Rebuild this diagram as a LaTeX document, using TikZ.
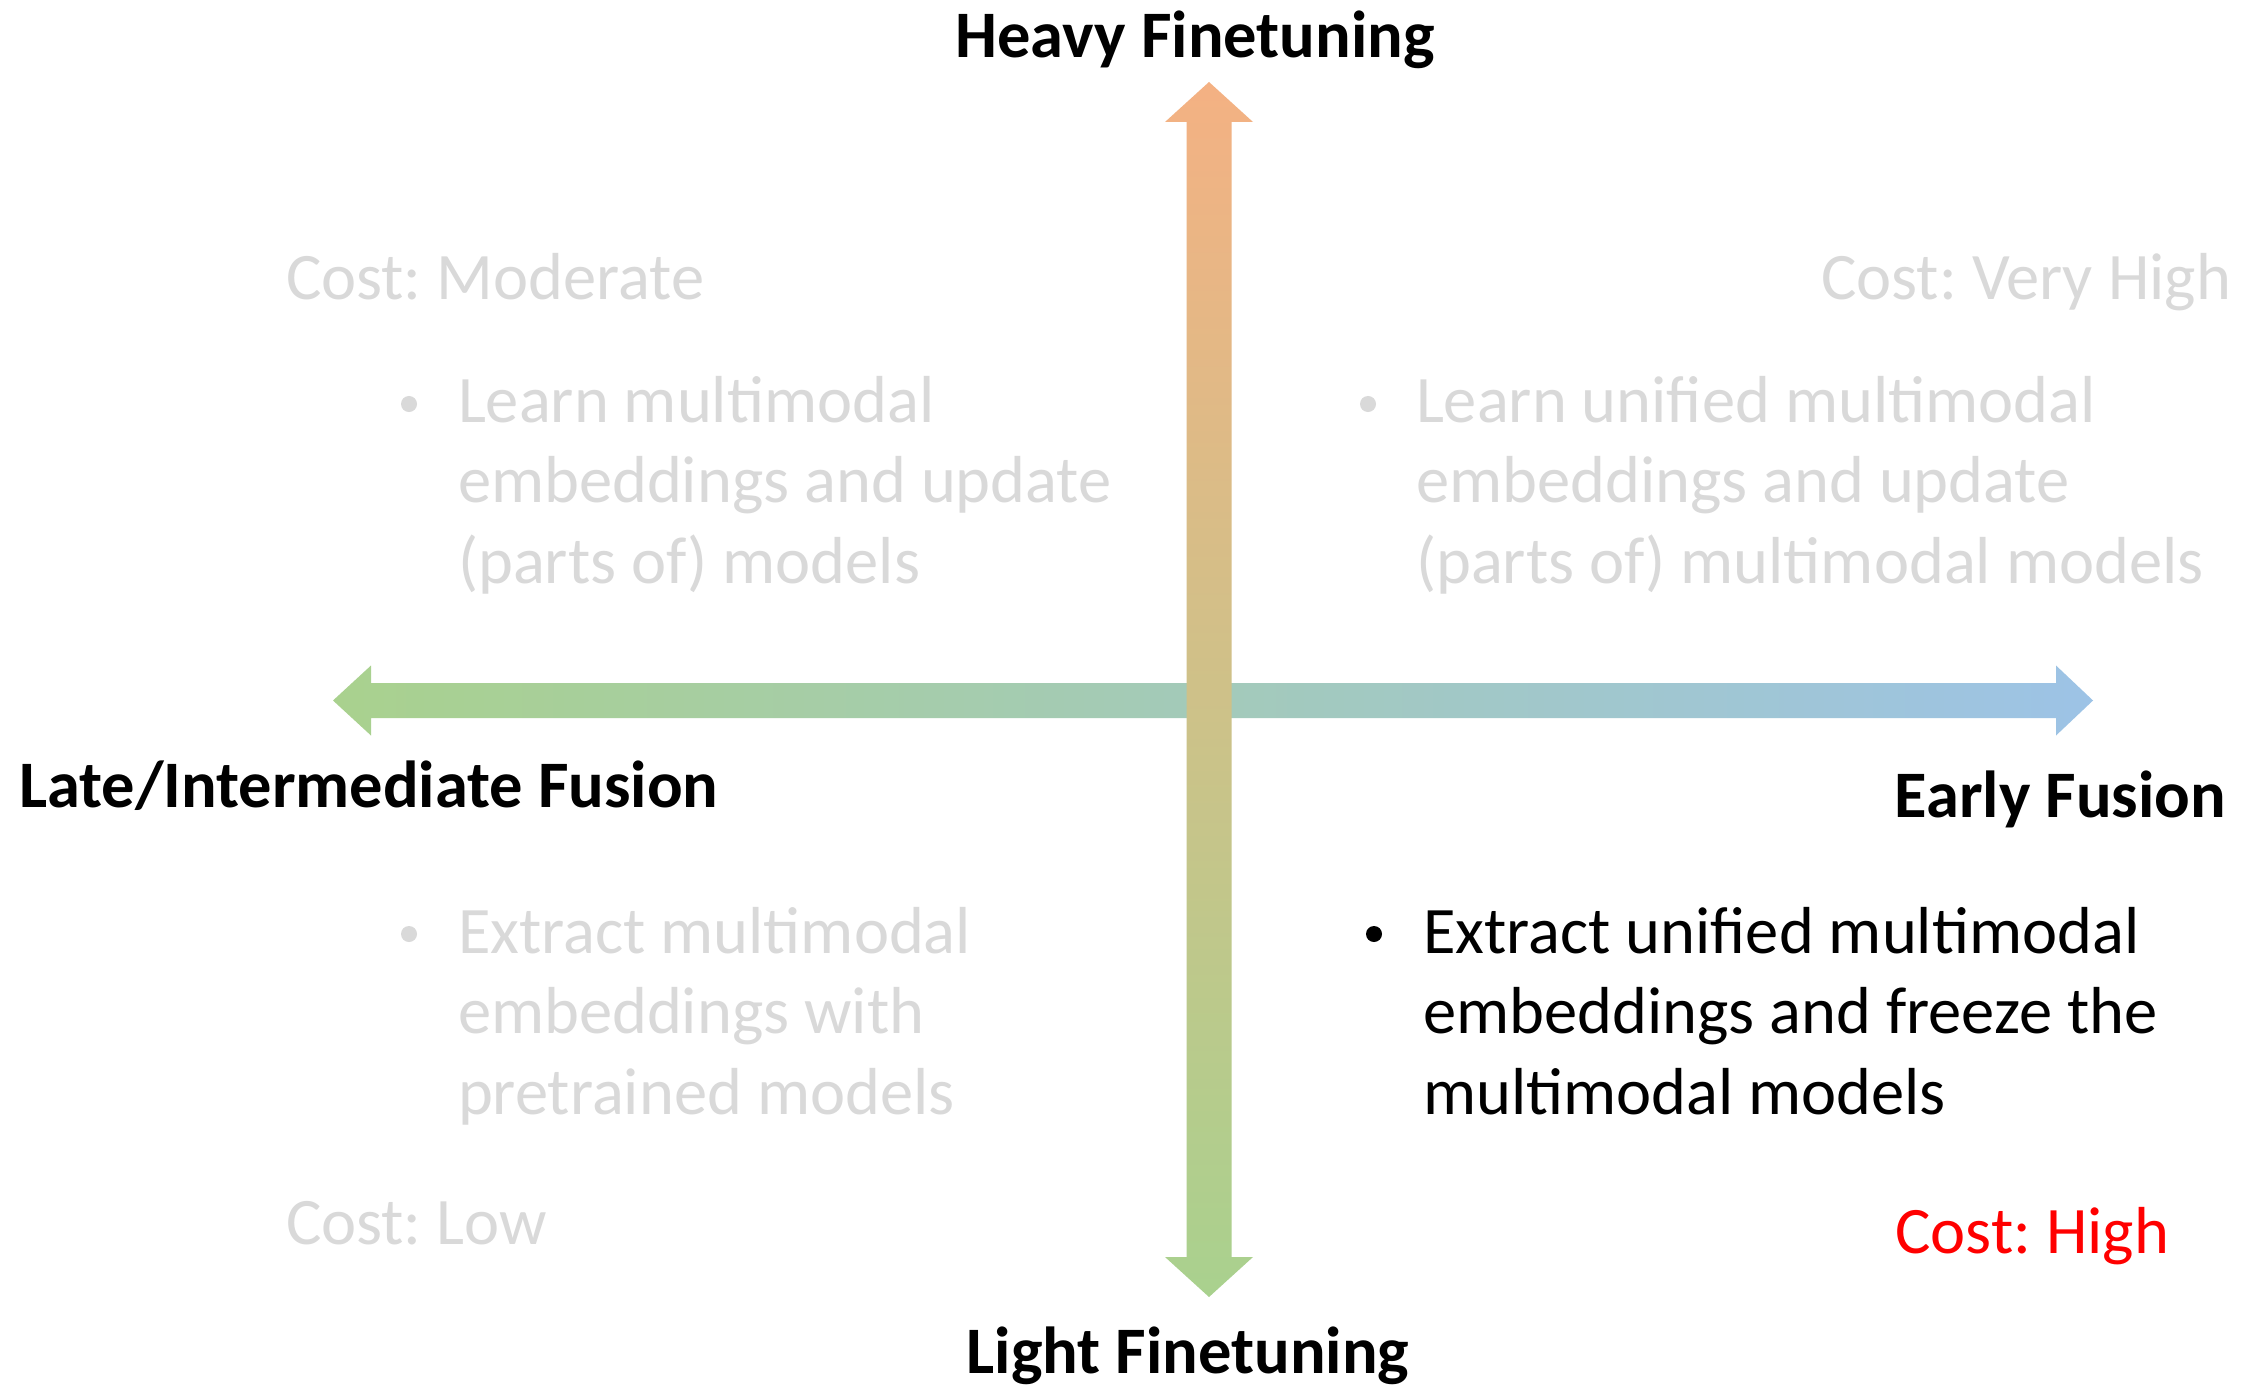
\documentclass[tikz,border=0pt]{standalone}
\usepackage{fontspec}
\setmainfont{Carlito}
\usetikzlibrary{calc}

\definecolor{axisorange}{HTML}{F4B183}
\definecolor{axisgreen}{HTML}{A9D18E}
\definecolor{axisblue}{HTML}{9DC3E6}
\definecolor{fadedtext}{HTML}{D9D9D9}
\definecolor{costred}{HTML}{FF0000}

\begin{document}
\frenchspacing
\begin{tikzpicture}[x=0.01cm, y=-0.01cm,
  every node/.style={inner sep=0pt, outer sep=0pt},
  txt/.style={font=\fontsize{18.9}{22.8}\selectfont, align=left},
  heading/.style={font=\fontsize{18.9}{22.8}\selectfont\bfseries, text=black},
  faded/.style={txt, text=fadedtext},
  dark/.style={txt, text=black},
  bulletdot/.style={circle, minimum size=0.16cm},
]
% canvas
\fill[white] (0,0) rectangle (2242,1385);
\useasboundingbox (0,0) rectangle (2242,1385);

% axis end points
\coordinate (hleft)  at (333,700.5);
\coordinate (hright) at (2093,700.5);
\coordinate (vtop)   at (1209,82);
\coordinate (vbot)   at (1209,1297);

% horizontal double block arrow: fusion axis
\shade[left color=axisgreen, right color=axisblue]
  (hleft) -- ++(38,-35) -- ++(0,17.5) -- ($(hright)+(-37,-17.5)$) -- ++(0,-17.5)
  -- (hright) -- ++(-37,35) -- ++(0,-17.5) -- ($(hleft)+(38,17.5)$) -- ++(0,17.5) -- cycle;

% vertical double block arrow: finetuning axis
\shade[top color=axisorange, bottom color=axisgreen]
  (vtop) -- ++(44,40) -- ++(-21.5,0) -- ($(vbot)+(22.5,-40)$) -- ++(21.5,0)
  -- (vbot) -- ++(-44,-40) -- ++(21.5,0) -- ($(vtop)+(-22.5,40)$) -- ++(-21.5,0) -- cycle;

% axis labels
\node[heading, anchor=base] (heavy) at (1195,58) {Heavy Finetuning};
\node[heading, anchor=base] (light) at (1188,1373) {Light Finetuning};
\node[heading, anchor=base west] (late) at (19,807) {Late/Intermediate Fusion};
\node[heading, anchor=base east] (early) at (2226,817) {Early Fusion};

% cost labels
\node[faded, anchor=base west] (costmod) at (286,299) {Cost: Moderate};
\node[faded, anchor=base east] (costvh) at (2231,299) {Cost: Very High};
\node[faded, anchor=base west] (costlow) at (286,1244) {Cost: Low};
\node[txt, text=costred, anchor=base east] (costhigh) at (2169,1253) {Cost: High};

% quadrant descriptions (base anchor sits on the last line)
\node[bulletdot, fill=fadedtext] (dtl) at (409,404) {};
\node[faded, anchor=base west] (qtl) at (458,583)
  {Learn multimodal\\embeddings and update\\(parts of) models};

\node[bulletdot, fill=fadedtext] (dtr) at (1368,404) {};
\node[faded, anchor=base west] (qtr) at (1416,583)
  {Learn unified multimodal\\embeddings and update\\(parts of) multimodal models};

\node[bulletdot, fill=fadedtext] (dbl) at (409,934) {};
\node[faded, anchor=base west] (qbl) at (458,1114)
  {Extract multimodal\\embeddings with\\pretrained models};

\node[bulletdot, fill=black] (dbr) at (1374,934) {};
\node[dark, anchor=base west] (qbr) at (1423,1114)
  {Extract unified multimodal\\embeddings and freeze the\\multimodal models};
\end{tikzpicture}
\end{document}
